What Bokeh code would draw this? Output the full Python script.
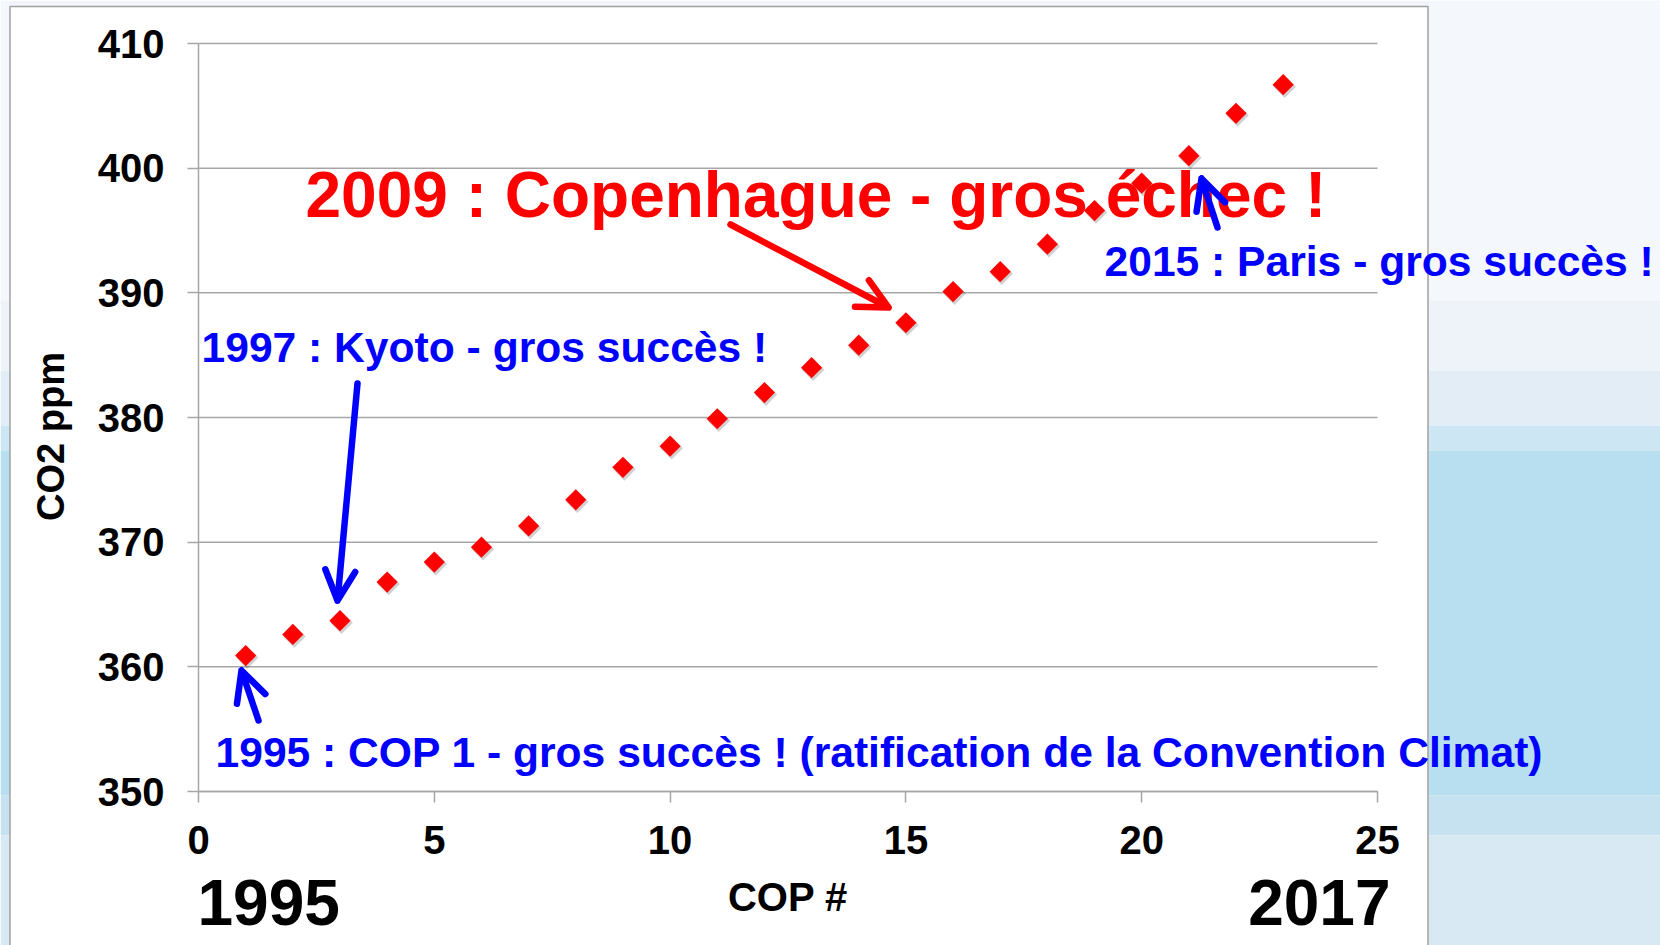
import numpy as np
from bokeh.plotting import figure
from bokeh.models import Range1d, Label, Arrow, OpenHead, FixedTicker
from bokeh.embed import file_html
from bokeh.resources import INLINE

# ---------------- data ----------------
cop_number = list(range(1, 24))
co2_ppm = [360.9, 362.6, 363.7, 366.8, 368.4, 369.6, 371.3, 373.4, 376.0, 377.7,
           379.9, 382.0, 384.0, 385.8, 387.6, 390.1, 391.7, 393.9, 396.6, 398.8,
           401.0, 404.4, 406.7]
x_ticks = [0, 5, 10, 15, 20, 25]
y_ticks = [350, 360, 370, 380, 390, 400, 410]

title_text = "2009 : Copenhague - gros échec !"
kyoto_text = "1997 : Kyoto - gros succès !"
paris_text = "2015 : Paris - gros succès !"
cop1_text = "1995 : COP 1 - gros succès ! (ratification de la Convention Climat)"
y_label = "CO2 ppm"
x_label = "COP #"
first_year = "1995"
last_year = "2017"

# ---------------- layout ----------------
W, H = 1660, 945
FONT = "Liberation Sans"
GREY = "#a6a6a6"

# pixel positions of the axis extremes in the picture
PX0, PX25 = 198, 1377
PY350, PY410 = 791, 43


def dx(px):
    return (px - PX0) / (PX25 - PX0) * 25


def dy(py):
    return 350 + (PY350 - py) / (PY350 - PY410) * 60


p = figure(width=W, height=H, output_backend="svg", toolbar_location=None,
           x_range=Range1d(dx(0), dx(W)), y_range=Range1d(dy(H), dy(0)))
p.min_border = 0
p.min_border_left = 0
p.min_border_right = 0
p.min_border_top = 0
p.min_border_bottom = 0
p.background_fill_color = "white"
p.border_fill_color = "white"
p.outline_line_color = None
p.grid.visible = False

# ---- slide background (sky picture on the sides) ----
bands = [(0, 300, "#f4f7fb"), (300, 370, "#edf3f9"), (370, 425, "#e2edf6"),
         (425, 450, "#cde6f3"), (450, 795, "#b8dff0"), (795, 835, "#c6e2f1"),
         (835, 945, "#d9e9f3")]
for top, bot, col in bands:
    for l, r in ((0, 9.5), (1428, W)):
        p.quad(left=dx(l), right=dx(r), top=dy(top), bottom=dy(bot),
               fill_color=col, line_color=None)
p.quad(left=dx(9.5), right=dx(1428), top=dy(0), bottom=dy(6),
       fill_color="#f1f5fa", line_color=None)
# slide border
p.line([dx(9.5), dx(9.5), dx(1427.5), dx(1427.5)], [dy(H), dy(6), dy(6), dy(H)],
       line_color="#a0a0a0", line_width=1.5)

# ---- grid lines ----
p.segment(x0=[0] * len(y_ticks), y0=y_ticks, x1=[25] * len(y_ticks), y1=y_ticks,
          line_color=GREY, line_width=1.5)

# ---- axes at fixed locations ----
p.xaxis.fixed_location = 350
p.yaxis.fixed_location = 0
p.xaxis.bounds = (0, 25)
p.yaxis.bounds = (350, 410)
p.xaxis.ticker = FixedTicker(ticks=x_ticks)
p.yaxis.ticker = FixedTicker(ticks=y_ticks)
for ax in (p.xaxis[0], p.yaxis[0]):
    ax.major_label_text_font = FONT
    ax.major_label_text_font_style = "bold"
    ax.major_label_text_font_size = "40px"
    ax.major_label_text_color = "black"
    ax.axis_line_color = GREY
    ax.axis_line_width = 1.5
    ax.major_tick_line_color = GREY
    ax.major_tick_line_width = 1.5
    ax.major_tick_out = 11
    ax.major_tick_in = 0
    ax.minor_tick_line_color = None
p.yaxis.major_label_standoff = 23
p.xaxis.major_label_standoff = 23

# ---- data points (with a soft drop shadow) ----
shadow_dx = 1.5 / ((PX25 - PX0) / 25)
shadow_dy = 2.0 / ((PY350 - PY410) / 60)
p.scatter(np.array(cop_number) + shadow_dx, np.array(co2_ppm) - shadow_dy,
          marker="square", angle=np.pi / 4, size=16,
          fill_color="#000000", fill_alpha=0.18, line_color=None)
p.scatter(cop_number, co2_ppm, marker="square", angle=np.pi / 4, size=15,
          fill_color="#ff0000", line_color=None)

BASE_FIX = 0.38  # baseline correction, in em


def label(text, px, py, size, color="black", align="left", baseline="alphabetic", angle=0.0):
    if baseline == "alphabetic":
        py = py - BASE_FIX * size
    p.add_layout(Label(x=dx(px), y=dy(py), text=text, text_font=FONT,
                       text_font_style="bold", text_font_size=f"{size}px", text_color=color,
                       text_align=align, text_baseline=baseline, angle=angle))


label(y_label, 50, 436, 38, align="center", baseline="middle", angle=np.pi / 2)
label(x_label, 787.5, 912, 40, align="center")
label(first_year, 197, 926, 64)
label(last_year, 1390, 926, 64, align="right")
label(title_text, 305, 219, 64, color="#ff0000")
label(kyoto_text, 201, 363, 42.6, color="#0000ff")
label(paris_text, 1104, 277, 42.6, color="#0000ff")
label(cop1_text, 215, 768, 42.6, color="#0000ff")


def arrow(x0, y0, x1, y1, color):
    p.add_layout(Arrow(end=OpenHead(line_color=color, line_width=6.5, size=30,
                                    line_cap="round", line_join="round"),
                       x_start=dx(x0), y_start=dy(y0), x_end=dx(x1), y_end=dy(y1),
                       line_color=color, line_width=6.5, line_cap="round"))


arrow(730, 224, 888, 307, "#ff0000")
arrow(357, 383, 337, 600, "#0000ff")
arrow(258, 720, 241, 670, "#0000ff")
arrow(1217, 227, 1201, 178, "#0000ff")

open("out.html", "w").write(file_html(p, INLINE))
